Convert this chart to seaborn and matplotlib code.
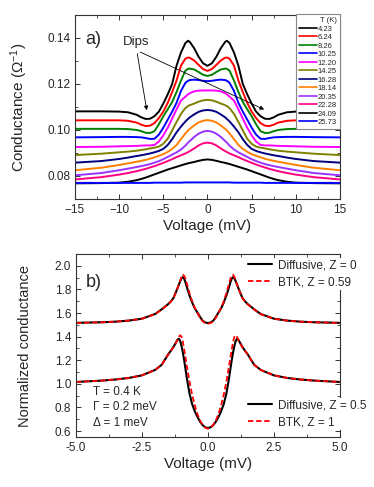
import numpy as np
import pandas as pd
import matplotlib
matplotlib.use('Agg')
import matplotlib.pyplot as plt
import seaborn as sns

# ---- data: panel a) (conductance vs voltage, curves are symmetric in V) ----
v_half = [0, 0.5, 1, 1.5, 2, 2.2, 2.5, 3, 3.5, 4, 4.5, 5, 5.5, 6, 6.5, 7, 7.5, 8, 9, 10, 12, 15]

temps = ['4.23', '6.24', '8.26', '10.25', '12.20', '14.25', '16.28', '18.14', '20.35', '22.28', '24.09', '25.73']
colors = ['#000000', '#ff0000', '#008000', '#0000ff', '#ff00ff', '#808000',
          '#000080', '#ff8000', '#9933ff', '#ff0080', '#000000', '#0000ff']

g_423 = [0.1279, 0.1290, 0.1318, 0.1355, 0.1383, 0.1388, 0.1378, 0.1337, 0.1280, 0.1200, 0.1155, 0.1115,
         0.1080, 0.1060, 0.1049, 0.1048, 0.1055, 0.1066, 0.1077, 0.1080, 0.1081, 0.1081]
g_624 = [0.1257, 0.1265, 0.1283, 0.1302, 0.1314, 0.1315, 0.1310, 0.1280, 0.1215, 0.1165, 0.1118, 0.1080,
         0.1052, 0.1030, 0.1019, 0.1017, 0.1023, 0.1032, 0.1040, 0.1042, 0.1042, 0.1042]
g_826 = [0.1235, 0.1240, 0.1252, 0.1263, 0.1267, 0.1266, 0.1258, 0.1215, 0.1165, 0.1122, 0.1090, 0.1060,
         0.1025, 0.0995, 0.0987, 0.0988, 0.0995, 0.1000, 0.1004, 0.1005, 0.1005, 0.1005]
g_1025 = [0.1212, 0.1214, 0.1217, 0.1219, 0.1217, 0.1214, 0.1205, 0.1170, 0.1118, 0.1080, 0.1045, 0.1010,
          0.0980, 0.0962, 0.0961, 0.0965, 0.0968, 0.0969, 0.0970, 0.0970, 0.0969, 0.0968]
g_1220 = [0.1172, 0.1172, 0.1171, 0.1168, 0.1160, 0.1155, 0.1145, 0.1128, 0.1090, 0.1050, 0.1010, 0.0977,
          0.0950, 0.0935, 0.0933, 0.0933, 0.0932, 0.0931, 0.0930, 0.0929, 0.0927, 0.0926]
g_1425 = [0.1131, 0.1129, 0.1123, 0.1115, 0.1108, 0.1104, 0.1095, 0.1070, 0.1035, 0.0998, 0.0962, 0.0940,
          0.0928, 0.0923, 0.0920, 0.0916, 0.0913, 0.0910, 0.0906, 0.0903, 0.0897, 0.0891]
g_1628 = [0.1087, 0.1085, 0.1079, 0.1068, 0.1055, 0.1048, 0.1037, 0.1015, 0.0990, 0.0960, 0.0935, 0.0918,
          0.0909, 0.0903, 0.0898, 0.0894, 0.0890, 0.0887, 0.0880, 0.0874, 0.0865, 0.0858]
g_1814 = [0.1043, 0.1040, 0.1033, 0.1020, 0.1005, 0.0998, 0.0985, 0.0960, 0.0935, 0.0918, 0.0905, 0.0895,
          0.0888, 0.0881, 0.0875, 0.0870, 0.0866, 0.0862, 0.0855, 0.0848, 0.0836, 0.0825]
g_2035 = [0.0996, 0.0993, 0.0984, 0.0970, 0.0952, 0.0945, 0.0932, 0.0915, 0.0903, 0.0893, 0.0883, 0.0873,
          0.0865, 0.0858, 0.0852, 0.0847, 0.0843, 0.0839, 0.0832, 0.0825, 0.0813, 0.0803]
g_2228 = [0.0945, 0.0942, 0.0933, 0.0920, 0.0908, 0.0904, 0.0898, 0.0890, 0.0882, 0.0873, 0.0865, 0.0857,
          0.0850, 0.0843, 0.0837, 0.0831, 0.0826, 0.0821, 0.0813, 0.0806, 0.0795, 0.0785]
g_2409 = [0.0872, 0.0870, 0.0866, 0.0861, 0.0857, 0.0855, 0.0852, 0.0846, 0.0840, 0.0834, 0.0828, 0.0821,
          0.0814, 0.0807, 0.0800, 0.0793, 0.0787, 0.0782, 0.0775, 0.0771, 0.0769, 0.0768]
g_2573 = [0.0772, 0.0772, 0.0772, 0.0772, 0.0772, 0.0772, 0.0772, 0.0771, 0.0771, 0.0771, 0.0771, 0.0771,
          0.0771, 0.0771, 0.0770, 0.0770, 0.0770, 0.0770, 0.0770, 0.0770, 0.0770, 0.0770]
curves_a = [g_423, g_624, g_826, g_1025, g_1220, g_1425, g_1628, g_1814, g_2035, g_2228, g_2409, g_2573]

# ---- data: panel b) (normalized conductance, symmetric in V) ----
vb_half = [0, 0.1, 0.2, 0.3, 0.4, 0.5, 0.6, 0.7, 0.8, 0.85, 0.9, 0.95, 1.0, 1.05, 1.1, 1.15, 1.2,
           1.3, 1.4, 1.5, 1.75, 2.0, 2.5, 3.0, 3.5, 4.0, 5.0]
diff_z0 = [1.515, 1.520, 1.535, 1.567, 1.605, 1.640, 1.690, 1.750, 1.820, 1.860, 1.890, 1.905, 1.895, 1.870,
           1.842, 1.812, 1.785, 1.730, 1.700, 1.677, 1.632, 1.592, 1.552, 1.536, 1.527, 1.522, 1.517]
btk_z059 = [1.510, 1.515, 1.530, 1.560, 1.600, 1.645, 1.700, 1.770, 1.850, 1.890, 1.915, 1.925, 1.908, 1.875,
            1.843, 1.812, 1.783, 1.728, 1.698, 1.675, 1.630, 1.590, 1.552, 1.536, 1.527, 1.522, 1.516]
diff_z05 = [0.626, 0.632, 0.650, 0.680, 0.720, 0.768, 0.830, 0.920, 1.050, 1.125, 1.200, 1.265, 1.320, 1.362,
            1.382, 1.375, 1.355, 1.315, 1.282, 1.252, 1.162, 1.118, 1.072, 1.050, 1.037, 1.028, 1.016]
btk_z1 = [0.620, 0.628, 0.652, 0.690, 0.745, 0.820, 0.910, 1.020, 1.150, 1.225, 1.290, 1.355, 1.398, 1.412,
          1.398, 1.375, 1.352, 1.312, 1.280, 1.250, 1.162, 1.118, 1.072, 1.050, 1.037, 1.028, 1.016]


def mirror(xh, yh):
    x = np.concatenate([-np.array(xh[:0:-1]), np.array(xh)])
    y = np.concatenate([np.array(yh[:0:-1]), np.array(yh)])
    return x, y


rows = []
for t, g in zip(temps, curves_a):
    x, y = mirror(v_half, g)
    rows.append(pd.DataFrame({'V': x, 'G': y, 'T': t}))
df_a = pd.concat(rows, ignore_index=True)

sns.set_style('ticks')
plt.rcParams['font.family'] = ['Liberation Sans', 'DejaVu Sans']
plt.rcParams['mathtext.fontset'] = 'custom'
plt.rcParams['mathtext.rm'] = 'Liberation Sans'
plt.rcParams['mathtext.it'] = 'Liberation Sans:italic'
plt.rcParams['xtick.direction'] = 'in'
plt.rcParams['ytick.direction'] = 'in'

fig = plt.figure(figsize=(3.74, 4.87), dpi=100)
ax1 = fig.add_axes([0.2005, 0.5914, 0.7085, 0.3778])
ax2 = fig.add_axes([0.203, 0.1027, 0.706, 0.3757])

# panel a
sns.lineplot(data=df_a, x='V', y='G', hue='T', hue_order=temps, palette=colors,
             linewidth=1.4, estimator=None, sort=False, ax=ax1)
leg = ax1.get_legend()
handles = leg.legend_handles
labels = [t.get_text() for t in leg.get_texts()]
for h in handles:
    h.set_linewidth(1.2)
ax1.legend(handles, labels, title='T (K)', loc='upper right', bbox_to_anchor=(1.0, 1.005),
           borderaxespad=0, fontsize=5.5, title_fontsize=5.5, alignment='right',
           handlelength=2.4, handletextpad=0.1, labelspacing=0.15, borderpad=0.4,
           fancybox=False, framealpha=1, edgecolor='#888888')
ax1.get_legend().get_frame().set_linewidth(0.8)

ax1.set_xlim(-15, 15)
ax1.set_ylim(0.07, 0.15)
ax1.set_xticks([-15, -10, -5, 0, 5, 10, 15])
ax1.set_xticks(np.arange(-12.5, 15, 5), minor=True)
ax1.set_yticks([0.08, 0.10, 0.12, 0.14])
ax1.set_yticks([0.09, 0.11, 0.13], minor=True)
ax1.set_yticklabels(['0.08', '0.10', '0.12', '0.14'])
ax1.set_xlabel('Voltage (mV)', fontsize=11, labelpad=2)
ax1.set_ylabel('Conductance ($\\Omega^{-1}$)', fontsize=11, labelpad=12)
ax1.text(0.04, 0.867, 'a)', transform=ax1.transAxes, fontsize=13, ha='left', va='center')
ax1.text(-8.1, 0.1382, 'Dips', fontsize=9.5, ha='center', va='center')
ax1.annotate('', xy=(-6.82, 0.1074), xytext=(-8.0, 0.1344),
             arrowprops=dict(arrowstyle='-|>', lw=0.6, color='k', mutation_scale=6))
ax1.annotate('', xy=(6.70, 0.1084), xytext=(-7.9, 0.1344),
             arrowprops=dict(arrowstyle='-|>', lw=0.6, color='k', mutation_scale=6))

# panel b
xb, y1 = mirror(vb_half, diff_z0)
_, y2 = mirror(vb_half, btk_z059)
_, y3 = mirror(vb_half, diff_z05)
_, y4 = mirror(vb_half, btk_z1)
sns.lineplot(x=xb, y=y1, color='black', linewidth=1.5, ax=ax2, label='Diffusive, Z = 0')
sns.lineplot(x=xb, y=y2, color='red', linewidth=1.3, ax=ax2, label='BTK, Z = 0.59')
sns.lineplot(x=xb, y=y3, color='black', linewidth=1.5, ax=ax2, label='Diffusive, Z = 0.5')
sns.lineplot(x=xb, y=y4, color='red', linewidth=1.3, ax=ax2, label='BTK, Z = 1')
lines = ax2.get_lines()
lines[1].set_linestyle((0, (3, 1.5)))
lines[3].set_linestyle((0, (3, 1.5)))
h2, l2 = ax2.get_legend_handles_labels()
leg_kw = dict(loc='center left', frameon=True, framealpha=1, facecolor='white', edgecolor='none',
              fancybox=False, fontsize=8.5, handlelength=2.0, handletextpad=0.5, labelspacing=0.4,
              borderpad=0.15, borderaxespad=0)
legb1 = ax2.legend(h2[:2], l2[:2], bbox_to_anchor=(0.645, 0.891), **leg_kw)
ax2.add_artist(legb1)
ax2.legend(h2[2:], l2[2:], bbox_to_anchor=(0.645, 0.127), **leg_kw)

ax2.set_xlim(-5, 5)
ax2.set_ylim(0.55, 2.1)
ax2.set_xticks([-5, -2.5, 0, 2.5, 5])
ax2.set_xticklabels(['-5.0', '-2.5', '0.0', '2.5', '5.0'])
ax2.set_xticks(np.arange(-3.75, 5, 2.5), minor=True)
ax2.set_yticks(np.arange(0.6, 2.05, 0.2))
ax2.set_yticklabels(['0.6', '0.8', '1.0', '1.2', '1.4', '1.6', '1.8', '2.0'])
ax2.set_yticks(np.arange(0.7, 2.1, 0.2), minor=True)
ax2.set_xlabel('Voltage (mV)', fontsize=11, labelpad=2)
ax2.set_ylabel('Normalized conductance', fontsize=10.5, labelpad=16)
ax2.text(0.038, 0.842, 'b)', transform=ax2.transAxes, fontsize=13, ha='left', va='center')
ax2.text(0.063, 0.248, 'T = 0.4 K', transform=ax2.transAxes, fontsize=8.5, va='center')
ax2.text(0.063, 0.166, '\u0393 = 0.2 meV', transform=ax2.transAxes, fontsize=8.5, va='center')
ax2.text(0.063, 0.078, '\u0394 = 1 meV', transform=ax2.transAxes, fontsize=8.5, va='center')

for ax in (ax1, ax2):
    ax.tick_params(which='major', length=3.5, width=0.7, labelsize=8.5, top=True, right=True,
                   direction='in', color='#333333')
    ax.tick_params(which='minor', length=2, width=0.6, top=True, right=True, direction='in',
                   color='#333333')
    for s in ax.spines.values():
        s.set_linewidth(0.8)
        s.set_color('#333333')

fig.savefig('out.png', dpi=100)
